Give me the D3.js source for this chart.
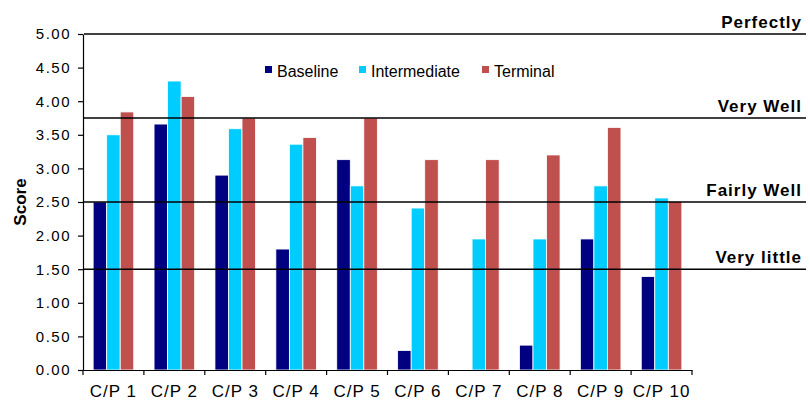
<!DOCTYPE html>
<html>
<head>
<meta charset="utf-8">
<script src="https://cdn.jsdelivr.net/npm/d3@7/dist/d3.min.js"></script>
<style>
  html, body { margin: 0; padding: 0; background: #fff; }
  svg { display: block; font-family: "Liberation Sans", Arial, sans-serif; }
</style>
</head>
<body>
<svg id="chart" width="810" height="402"></svg>
<script>
// Categories and series scores
const categories = ["C/P 1", "C/P 2", "C/P 3", "C/P 4", "C/P 5", "C/P 6", "C/P 7", "C/P 8", "C/P 9", "C/P 10"];
const seriesNames = ["Baseline", "Intermediate", "Terminal"];
const baseline     = [2.50, 3.66, 2.90, 1.80, 3.13, 0.29, 0.00, 0.37, 1.95, 1.39];
const intermediate = [3.50, 4.30, 3.59, 3.36, 2.74, 2.41, 1.95, 1.95, 2.74, 2.56];
const terminal     = [3.84, 4.07, 3.75, 3.46, 3.75, 3.13, 3.13, 3.20, 3.61, 2.51];
const seriesColors = ["#000080", "#00CCFF", "#C0504D"];

// Rating thresholds drawn as horizontal reference lines
const refValues = [5.0, 3.75, 2.5, 1.5];
const refLabels = ["Perfectly", "Very Well", "Fairly Well", "Very little"];

const yTicks = [0, 0.5, 1, 1.5, 2, 2.5, 3, 3.5, 4, 4.5, 5];

const svg = d3.select("#chart");
const plot = { left: 83, right: 692, top: 34, bottom: 370 };

const x = d3.scaleBand().domain(categories).range([plot.left, plot.right]).paddingInner(0).paddingOuter(0);
const y = d3.scaleLinear().domain([0, 5]).range([plot.bottom, plot.top]);

// Excel-style gap width of 150%: three bars plus 1.5 bar widths of gap per group
const barW = x.bandwidth() / 4.5;
const x1 = d3.scaleBand().domain(seriesNames).range([0.75 * barW, 3.75 * barW]).padding(0);

const series = [baseline, intermediate, terminal];

// Bars
const groups = svg.append("g").selectAll("g")
  .data(categories)
  .join("g")
  .attr("transform", d => `translate(${x(d)},0)`);

groups.selectAll("rect")
  .data((c, i) => seriesNames.map((s, k) => ({ s, v: series[k][i], color: seriesColors[k] })))
  .join("rect")
  .attr("x", d => x1(d.s))
  .attr("width", x1.bandwidth())
  .attr("y", d => y(d.v))
  .attr("height", d => y(0) - y(d.v))
  .attr("fill", d => d.color)
  .attr("stroke", "#fff")
  .attr("stroke-width", 0.8);

// Reference lines and their labels
const refG = svg.append("g");
refG.selectAll("line")
  .data(refValues)
  .join("line")
  .attr("x1", plot.left + 1).attr("x2", 806)
  .attr("y1", d => y(d)).attr("y2", d => y(d))
  .attr("stroke", "#000").attr("stroke-width", 1.6);

refG.selectAll("text")
  .data(refValues)
  .join("text")
  .attr("x", 802)
  .attr("y", d => y(d) - 6)
  .attr("text-anchor", "end")
  .attr("font-size", 17)
  .attr("font-weight", "bold")
  .attr("letter-spacing", 1)
  .text((d, i) => refLabels[i]);

// Y axis
const yAxis = svg.append("g")
  .attr("transform", `translate(${plot.left},0)`)
  .call(d3.axisLeft(y).tickValues(yTicks).tickFormat(d3.format(".2f")).tickSize(5).tickSizeOuter(0));
yAxis.select(".domain").attr("stroke", "#000").attr("stroke-width", 1.2);
yAxis.selectAll(".tick line").attr("stroke", "#000").attr("stroke-width", 1.2);
yAxis.selectAll(".tick text")
  .attr("x", -12)
  .attr("font-size", 15)
  .attr("letter-spacing", 1.5)
  .attr("fill", "#000")
  .attr("font-family", "Liberation Sans, Arial, sans-serif");

// X axis
const xAxis = svg.append("g")
  .attr("transform", `translate(0,${plot.bottom})`)
  .call(d3.axisBottom(x).tickSize(0).tickSizeOuter(0));
xAxis.select(".domain").attr("stroke", "#000").attr("stroke-width", 1.2);
xAxis.selectAll(".tick text")
  .attr("y", 15)
  .attr("font-size", 17)
  .attr("letter-spacing", 1)
  .attr("fill", "#000")
  .attr("font-family", "Liberation Sans, Arial, sans-serif");

// Category separators on the x axis
svg.append("g").selectAll("line")
  .data(d3.range(categories.length + 1))
  .join("line")
  .attr("x1", i => plot.left + i * x.bandwidth())
  .attr("x2", i => plot.left + i * x.bandwidth())
  .attr("y1", plot.bottom).attr("y2", plot.bottom + 5)
  .attr("stroke", "#000").attr("stroke-width", 1.2);

// Y axis title
svg.append("text")
  .attr("transform", `translate(26,${(plot.top + plot.bottom) / 2}) rotate(-90)`)
  .attr("text-anchor", "middle")
  .attr("font-size", 17)
  .attr("font-weight", "bold")
  .text("Score");

// Legend
const legend = svg.append("g").selectAll("g")
  .data(seriesNames)
  .join("g")
  .attr("transform", (d, i) => `translate(${[265, 359, 482][i]},0)`);
legend.append("rect")
  .attr("x", 0).attr("y", 66)
  .attr("width", 7).attr("height", 7)
  .attr("fill", (d, i) => seriesColors[i]);
legend.append("text")
  .attr("x", 12).attr("y", 77)
  .attr("font-size", 16)
  .text(d => d);
</script>
</body>
</html>
